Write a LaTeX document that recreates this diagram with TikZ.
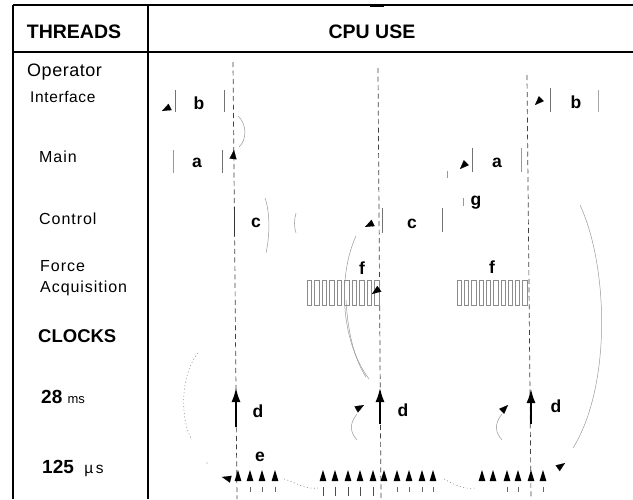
\documentclass[tikz,border=0pt]{standalone}
\usepackage{fontspec}
\setmainfont{Liberation Sans}
\newfontfamily\lblfont[LetterSpace=6]{Liberation Sans}
\newfontfamily\intfont[LetterSpace=4]{Liberation Sans}
\newfontfamily\opfont[LetterSpace=3]{Liberation Sans}
\usetikzlibrary{arrows.meta,calc}
\tikzset{
  frame/.style={draw=black, line width=1.3pt},
  hdr/.style={font=\bfseries\fontsize{19.5}{19.5}\selectfont, inner sep=0pt},
  rowlbl/.style={font=\lblfont\fontsize{16}{16}\selectfont, inner sep=0pt, anchor=west},
  lt/.style={font=\bfseries\fontsize{17.5}{17.5}\selectfont, inner sep=0pt},
  timeline/.style={draw=black!75, line width=0.7pt, dash pattern=on 5pt off 3.5pt},
  tk/.style={draw=black!55, line width=0.6pt},
  faint/.style={draw=black!40, line width=0.5pt},
  fdot/.style={draw=black!45, line width=0.6pt, dash pattern=on 1pt off 2.5pt},
  darrow/.style={draw=black, line width=1.5pt, -{Latex[length=14pt,width=9pt]}},
  headtip/.style={draw=black, line width=0.1pt, -{Triangle[length=9pt,width=7pt]}},
  barbox/.style={draw=black!45, line width=0.45pt},
}
% arrowhead: tip at #1, tail offset (#2,#3) in picture pixels (y down)
\newcommand\ahd[3]{\path[headtip] ($(#1)+(#2,#3)$) -- (#1);}
\begin{document}
\begin{tikzpicture}[x=1pt,y=-1pt]
\useasboundingbox (0,0) rectangle (633,499);
% table frame
\draw[frame] (13,5) -- (633,5);
\fill (370,3.6) rectangle (384,6.6);
\draw[frame, line width=1.7pt] (13,5) -- (13,499);
\draw[frame] (148,5) -- (148,499);
\draw[frame, line width=1.2pt] (13,52) -- (633,52);
% headers
\node[hdr] (hthreads) at (74,32) {THREADS};
\node[hdr] (hcpu) at (372,32) {CPU USE};
% row labels
\node[font=\opfont\fontsize{18}{18}\selectfont, inner sep=0pt, anchor=west] (rop) at (27,72) {Operator};
\node[font=\intfont\fontsize{15.5}{15.5}\selectfont, inner sep=0pt, anchor=west] (rint) at (30,97) {Interface};
\node[rowlbl] (rmain) at (39,157) {Main};
\node[rowlbl] (rctl) at (39,219) {Control};
\node[rowlbl] (rforce) at (40,266) {Force};
\node[rowlbl] (racq) at (40,288) {Acquisition};
\node[font=\bfseries\fontsize{18.5}{18.5}\selectfont, inner sep=0pt, anchor=west] (rclk) at (38,336) {CLOCKS};
\node[inner sep=0pt, anchor=west] (r28) at (41,397) {\bfseries\fontsize{19}{19}\selectfont 28\ \mdseries\fontsize{13}{13}\selectfont ms};
\node[inner sep=0pt, anchor=west] (r125) at (42,468) {\bfseries\fontsize{19}{19}\selectfont 125\ \ \mdseries\fontsize{15.5}{15.5}\selectfont µ\,s};
% vertical timelines
\coordinate (t1a) at (233,62); \coordinate (t1b) at (237,499);
\coordinate (t2a) at (378,68); \coordinate (t2b) at (381,499);
\coordinate (t3a) at (527,75); \coordinate (t3b) at (531,499);
\draw[timeline] (t1a) -- (t1b);
\draw[timeline] (t2a) -- (t2b);
\draw[timeline] (t3a) -- (t3b);
% b (operator interface)
\node[lt] (b1) at (199,103) {b};
\draw[tk] (175,90) -- (175,112);
\draw[tk] (224,90) -- (224,112);
\coordinate (ab1) at (162,111); \ahd{ab1}{8}{-4}
\node[lt] (b2) at (576,102) {b};
\draw[tk] (550,88) -- (550,112);
\draw[tk, draw=black!35] (598,90) -- (598,112);
\coordinate (ab2) at (535,105); \ahd{ab2}{6}{-6}
\draw[faint] (238,116) .. controls (247,124) and (247,140) .. (239,147);
% a (main)
\node[lt] (a1) at (197,163) {a};
\draw[tk, draw=black!40] (173,150) -- (173,173);
\draw[tk] (222,150) -- (222,173);
\coordinate (aa1) at (234,150); \ahd{aa1}{-1}{9}
\node[lt] (a2) at (497,163) {a};
\draw[tk] (472,148) -- (472,172);
\draw[tk, draw=black!40] (521,148) -- (521,172);
\draw[tk, draw=black!40] (447,171) -- (447,178);
\coordinate (aa2) at (460,169); \ahd{aa2}{6}{-6}
% g
\node[lt] (g1) at (476,203) {g};
\draw[tk, draw=black!40] (463,198) -- (463,206);
% c (control)
\node[lt] (c1) at (256,223) {c};
\draw[tk, draw=black!80, line width=0.8pt] (234,207) -- (234,235);
\draw[faint] (265,198) .. controls (270,212) and (270,235) .. (266,253);
\draw[tk, draw=black!35] (296,213) .. controls (294,220) and (294,227) .. (296,233);
\node[lt] (c2) at (412,224) {c};
\coordinate (ac2) at (365,227); \ahd{ac2}{8}{-4}
\draw[tk] (382,208) -- (382,233);
\draw[tk] (442,208) -- (442,232);
% f (force acquisition)
\node[lt] (f1) at (362,268) {f};
\node[lt] (f2) at (492,267) {f};
\foreach \i in {0,...,9} {
  \draw[barbox] ({307+\i*7.5},280) rectangle ++(4.5,25);
  \draw[barbox] ({457+\i*7.3},280) rectangle ++(4.3,25);
}
\coordinate (af1) at (372,294); \ahd{af1}{7}{-5}
\draw[faint] (356,236) .. controls (338,275) and (340,340) .. (369,379);
\draw[faint] (346,300) .. controls (348,335) and (355,360) .. (366,377);
% big arcs
\draw[faint] (580,205) .. controls (608,265) and (612,385) .. (573,448);
\coordinate (aclk3) at (565,463); \ahd{aclk3}{-7}{5}
\draw[fdot] (198,353) .. controls (180,375) and (180,420) .. (192,440);
\fill[black!45] (207,463) circle (0.7);
\coordinate (aclk1) at (222,477); \ahd{aclk1}{8}{2}
% d (28 ms clock)
\coordinate (d1b) at (236,427); \coordinate (d1t) at (236,388);
\coordinate (d2b) at (380,424); \coordinate (d2t) at (380,388);
\coordinate (d3b) at (531,424); \coordinate (d3t) at (531,389);
\draw[darrow] (d1b) -- (d1t);
\draw[darrow] (d2b) -- (d2t);
\draw[darrow] (d3b) -- (d3t);
\node[lt] (dl1) at (258,411) {d};
\node[lt] (dl2) at (403,410) {d};
\node[lt] (dl3) at (556,406) {d};
\coordinate (ad2) at (364,405); \ahd{ad2}{-7}{4}
\coordinate (ad3) at (508,405); \ahd{ad3}{-6}{6}
\draw[faint] (357,414) .. controls (349,424) and (350,432) .. (357,440);
\draw[faint] (502,414) .. controls (494,424) and (495,432) .. (502,440);
% e (125 us clock)
\node[lt] (e1) at (260,457) {e};
\foreach \x in {238,250,262,275, 323,335,348,360,373,384,397,409,422,433, 482,493,507,518,531,543}
  \fill ({\x-3.4},481) -- (\x,470) -- ({\x+3.4},481) -- cycle;
\foreach \x in {250,262,275,397,409,422,433,507,518,543}
  \draw[tk, draw=black!60] (\x,487) -- (\x,492);
\foreach \x in {323,335,348,360,373}
  \draw[tk, draw=black!70] (\x,487) -- (\x,496);
\draw[fdot] (284,479) .. controls (295,482) and (305,490) .. (318,488);
\draw[fdot] (444,479) .. controls (452,483) and (462,490) .. (476,488);
\end{tikzpicture}
\end{document}
